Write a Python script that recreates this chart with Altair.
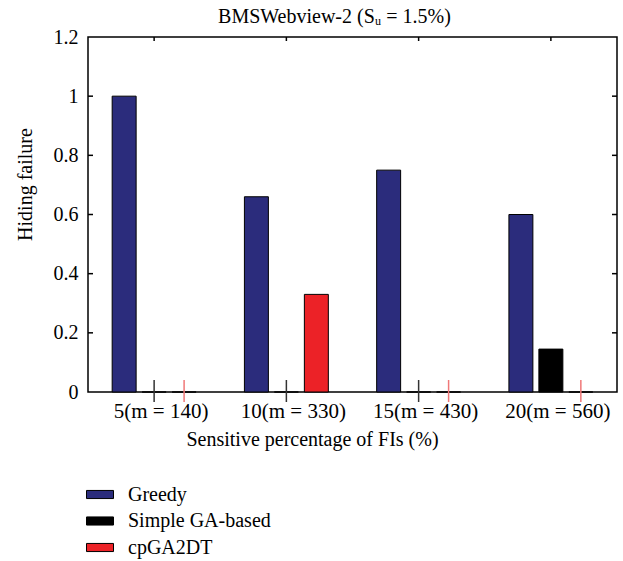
import altair as alt
import pandas as pd

categories = ["5(m = 140)", "10(m = 330)", "15(m = 430)", "20(m = 560)"]
methods = ["Greedy", "Simple GA-based", "cpGA2DT"]
greedy = [1.0, 0.66, 0.75, 0.60]
simple_ga = [0.0, 0.0, 0.0, 0.145]
cpga2dt = [0.0, 0.33, 0.0, 0.0]
colors = ["#2b2c7c", "#000000", "#ec2227"]
y_ticks = [0, 0.2, 0.4, 0.6, 0.8, 1.0, 1.2]
inner_ticks = [0.2, 0.4, 0.6, 0.8, 1.0]

rows = []
for i, c in enumerate(categories):
    for m, vals in zip(methods, [greedy, simple_ga, cpga2dt]):
        rows.append({"cat": c, "method": m, "value": vals[i]})
df = pd.DataFrame(rows)

W, H = 529, 355
FONT = "Liberation Serif"

x_axis = alt.Axis(
    title="Sensitive percentage of FIs (%)",
    labelAngle=0, ticks=False, domain=False, grid=False,
    labelFont=FONT, labelFontSize=21, labelColor="black",
    labelPadding=8, labelOffset=7,
    titleFont=FONT, titleFontSize=20, titleFontWeight="normal",
    titleColor="black", titlePadding=8, titleX=224,
)
y_axis = alt.Axis(
    values=y_ticks, format="~g", ticks=False, domain=False, grid=False,
    labelFont=FONT, labelFontSize=20, labelColor="black", labelPadding=10,
    title="Hiding failure", titleFont=FONT, titleFontSize=20,
    titleFontWeight="normal", titleColor="black", titlePadding=18, titleY=147,
)
x_scale = alt.Scale(paddingInner=0.32, paddingOuter=0.16)
xoff_enc = alt.XOffset(
    "method:N", sort=methods,
    scale=alt.Scale(domain=methods, paddingInner=0.2, paddingOuter=0.1),
)
y_scale = alt.Scale(domain=[0, 1.2], nice=False)

bars = alt.Chart(df).mark_bar(stroke="black", strokeWidth=1).encode(
    x=alt.X("cat:N", sort=categories, scale=x_scale, axis=x_axis),
    xOffset=xoff_enc,
    y=alt.Y("value:Q", scale=y_scale, axis=y_axis),
    color=alt.Color(
        "method:N", sort=methods,
        scale=alt.Scale(domain=methods, range=colors),
        legend=alt.Legend(
            title=None, orient="none", legendX=-2, legendY=443.5,
            symbolType="M-1,-0.3H1V0.3H-1Z", symbolSize=729,
            symbolStrokeColor="black", symbolStrokeWidth=1, symbolOpacity=1,
            labelFont=FONT, labelFontSize=20, labelColor="black",
            labelOffset=14, rowPadding=2.5, padding=0,
        ),
    ),
)

zero_marks = alt.Chart(df).transform_filter(
    "datum.value == 0 && datum.method != 'Greedy'"
).mark_rule(strokeWidth=1.5).encode(
    x=alt.X("cat:N", sort=categories, scale=x_scale, axis=x_axis),
    xOffset=xoff_enc,
    y=alt.value(H - 12),
    y2=alt.value(H + 10),
    stroke=alt.Stroke(
        "method:N",
        scale=alt.Scale(domain=["Simple GA-based", "cpGA2DT"], range=["#333333", "#f07878"]),
        legend=None,
    ),
)

tick_df = pd.DataFrame({"value": inner_ticks})
left_ticks = alt.Chart(tick_df).mark_rule(color="black", strokeWidth=1.5).encode(
    y=alt.Y("value:Q", scale=y_scale, axis=y_axis), x=alt.value(0), x2=alt.value(5)
)
right_ticks = alt.Chart(tick_df).mark_rule(color="black", strokeWidth=1.5).encode(
    y=alt.Y("value:Q", scale=y_scale, axis=y_axis), x=alt.value(W - 5), x2=alt.value(W)
)
top_ticks = alt.Chart(pd.DataFrame({"cat": categories})).mark_rule(
    color="black", strokeWidth=1.5
).encode(
    x=alt.X("cat:N", sort=categories, scale=x_scale, axis=x_axis),
    y=alt.value(0), y2=alt.value(4),
)

chart = alt.layer(bars, zero_marks, left_ticks, right_ticks, top_ticks).properties(
    width=W, height=H,
    autosize=alt.AutoSizeParams(type="none"),
    padding={"left": 88, "top": 37, "right": 6, "bottom": 169},
    title=alt.TitleParams(
        text="BMSWebview-2 (Sᵤ = 1.5%)", font=FONT, fontSize=20,
        fontWeight="normal", color="black", offset=0, dx=-18,
    ),
    background="white",
).configure_view(stroke="black", strokeWidth=1.5)

chart.save("out.html", embed_options={"renderer": "svg", "actions": False})
